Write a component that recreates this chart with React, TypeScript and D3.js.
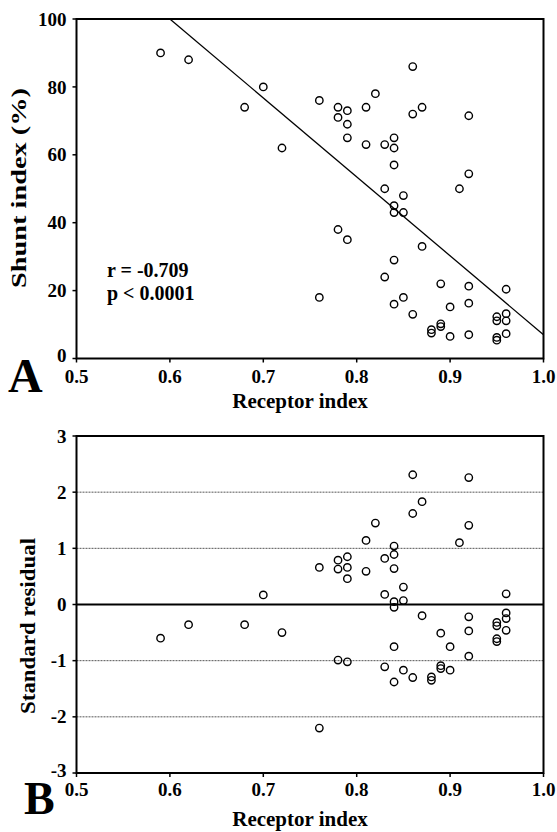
import React from 'react';
import * as d3 from 'd3';

// receptor index per patient (shared by both panels)
const receptorIdx = [
  0.59, 0.62, 0.68, 0.70, 0.72,
  0.76, 0.76,
  0.78, 0.78, 0.78,
  0.79, 0.79, 0.79, 0.79,
  0.81, 0.81, 0.82,
  0.83, 0.83, 0.83,
  0.84, 0.84, 0.84, 0.84, 0.84, 0.84, 0.84,
  0.85, 0.85, 0.85,
  0.86, 0.86, 0.86,
  0.87, 0.87,
  0.88, 0.88,
  0.89, 0.89, 0.89,
  0.90, 0.90, 0.91,
  0.92, 0.92, 0.92, 0.92, 0.92,
  0.95, 0.95, 0.95, 0.95,
  0.96, 0.96, 0.96, 0.96,
];
const shuntIdx = [
  90, 88, 74, 80, 62,
  76, 18,
  74, 71, 38,
  73, 69, 65, 35,
  74, 63, 78,
  63, 50, 24,
  65, 62, 57, 45, 43, 29, 16,
  48, 43, 18,
  86, 72, 13,
  74, 33,
  8.5, 7.5,
  22, 10.2, 9.4,
  15.2, 6.5, 50,
  71.5, 54.4, 21.3, 16.3, 7,
  12.3, 11.1, 6.2, 5.4,
  20.4, 13.2, 11.1, 7.3,
];
const stdResidual = [
  -0.60, -0.36, -0.36, 0.17, -0.50,
  0.66, -2.20,
  0.79, 0.63, -0.99,
  0.85, 0.66, 0.46, -1.02,
  1.14, 0.59, 1.45,
  0.82, 0.18, -1.11,
  1.04, 0.89, 0.64, 0.05, -0.05, -0.75, -1.38,
  0.31, 0.07, -1.17,
  2.31, 1.62, -1.30,
  1.83, -0.20,
  -1.29, -1.35,
  -0.51, -1.09, -1.14,
  -0.75, -1.17, 1.10,
  2.26, 1.41, -0.22, -0.47, -0.92,
  -0.32, -0.38, -0.61, -0.66,
  0.19, -0.15, -0.25, -0.46,
];

// regression line ends
const fitX = [0.6, 1.0];
const fitY = [100, 7];

const xTicks = [0.5, 0.6, 0.7, 0.8, 0.9, 1.0];
const shuntTicks = [0, 20, 40, 60, 80, 100];
const residTicks = [-3, -2, -1, 0, 1, 2, 3];
const residGrid = [-2, -1, 1, 2];

const font = "'Liberation Serif', 'Times New Roman', serif";

export default function App() {
  const W = 557, H = 832;
  const left = 76.5, right = 543.5;

  const x = d3.scaleLinear().domain([0.5, 1.0]).range([left, right]);
  const yA = d3.scaleLinear().domain([0, 100]).range([358.5, 19]);
  const yB = d3.scaleLinear().domain([-3, 3]).range([773, 436]);

  const fitLine = d3.line<number>()
    .x((d, i) => x(fitX[i]))
    .y(d => yA(d));

  const tickLabel = { fontFamily: font, fontWeight: 'bold', fontSize: 19 } as const;

  return (
    <svg width={W} height={H} style={{ position: 'absolute', left: 0, top: 0, background: '#fff' }}>
      {/* ---- Panel A ---- */}
      <g>
        <rect x={left} y={yA(100)} width={right - left} height={yA(0) - yA(100)}
          fill="none" stroke="#000" strokeWidth={2} />
        {shuntTicks.map(t => (
          <g key={'ya' + t}>
            <line x1={left - 4} x2={left} y1={yA(t)} y2={yA(t)} stroke="#000" strokeWidth={1.5} />
            <text x={left - 10} y={yA(t)} dy={t === 0 ? '0.2em' : '0.35em'} textAnchor="end" {...tickLabel}>{t}</text>
          </g>
        ))}
        {xTicks.map(t => (
          <g key={'xa' + t}>
            <line x1={x(t)} x2={x(t)} y1={yA(0)} y2={yA(0) + 4} stroke="#000" strokeWidth={1.5} />
            <text x={x(t)} y={yA(0) + 24} textAnchor="middle" {...tickLabel}>{t.toFixed(1)}</text>
          </g>
        ))}
        <path d={fitLine(fitY) || ''} fill="none" stroke="#000" strokeWidth={1.3} />
        {receptorIdx.map((r, i) => (
          <circle key={'pa' + i} cx={x(r)} cy={yA(shuntIdx[i])} r={3.7}
            fill="none" stroke="#000" strokeWidth={1.4} />
        ))}
        <text x={107} y={277} fontFamily={font} fontWeight="bold" fontSize={20}>r = -0.709</text>
        <text x={107} y={300} fontFamily={font} fontWeight="bold" fontSize={20}>p &lt; 0.0001</text>
        <text x={300} y={408} textAnchor="middle" fontFamily={font} fontWeight="bold" fontSize={21}>Receptor index</text>
        <text transform={`translate(26,${188}) rotate(-90)`} textAnchor="middle"
          textLength={200} lengthAdjust="spacingAndGlyphs"
          fontFamily={font} fontWeight="bold" fontSize={22}>Shunt index (%)</text>
        <text x={8} y={392} fontFamily={font} fontWeight="bold" fontSize={48}>A</text>
      </g>

      {/* ---- Panel B ---- */}
      <g>
        {residGrid.map(t => (
          <line key={'gb' + t} x1={left} x2={right} y1={yB(t)} y2={yB(t)}
            stroke="#555" strokeWidth={1} strokeDasharray="2,1" />
        ))}
        <line x1={left} x2={right} y1={yB(0)} y2={yB(0)} stroke="#000" strokeWidth={1.8} />
        <rect x={left} y={yB(3)} width={right - left} height={yB(-3) - yB(3)}
          fill="none" stroke="#000" strokeWidth={2} />
        {residTicks.map(t => (
          <g key={'yb' + t}>
            <line x1={left - 4} x2={left} y1={yB(t)} y2={yB(t)} stroke="#000" strokeWidth={1.5} />
            <text x={left - 10} y={yB(t)} dy={t === -3 ? '0.2em' : '0.35em'} textAnchor="end" {...tickLabel}>{t}</text>
          </g>
        ))}
        {xTicks.map(t => (
          <g key={'xb' + t}>
            <line x1={x(t)} x2={x(t)} y1={yB(-3)} y2={yB(-3) + 4} stroke="#000" strokeWidth={1.5} />
            <text x={x(t)} y={yB(-3) + 23} textAnchor="middle" {...tickLabel}>{t.toFixed(1)}</text>
          </g>
        ))}
        {receptorIdx.map((r, i) => (
          <circle key={'pb' + i} cx={x(r)} cy={yB(stdResidual[i])} r={3.7}
            fill="none" stroke="#000" strokeWidth={1.4} />
        ))}
        <text x={300} y={826} textAnchor="middle" fontFamily={font} fontWeight="bold" fontSize={21}>Receptor index</text>
        <text transform={`translate(35,${626}) rotate(-90)`} textAnchor="middle"
          textLength={176} lengthAdjust="spacingAndGlyphs"
          fontFamily={font} fontWeight="bold" fontSize={22}>Standard residual</text>
        <text x={24} y={814} fontFamily={font} fontWeight="bold" fontSize={46}>B</text>
      </g>
    </svg>
  );
}
